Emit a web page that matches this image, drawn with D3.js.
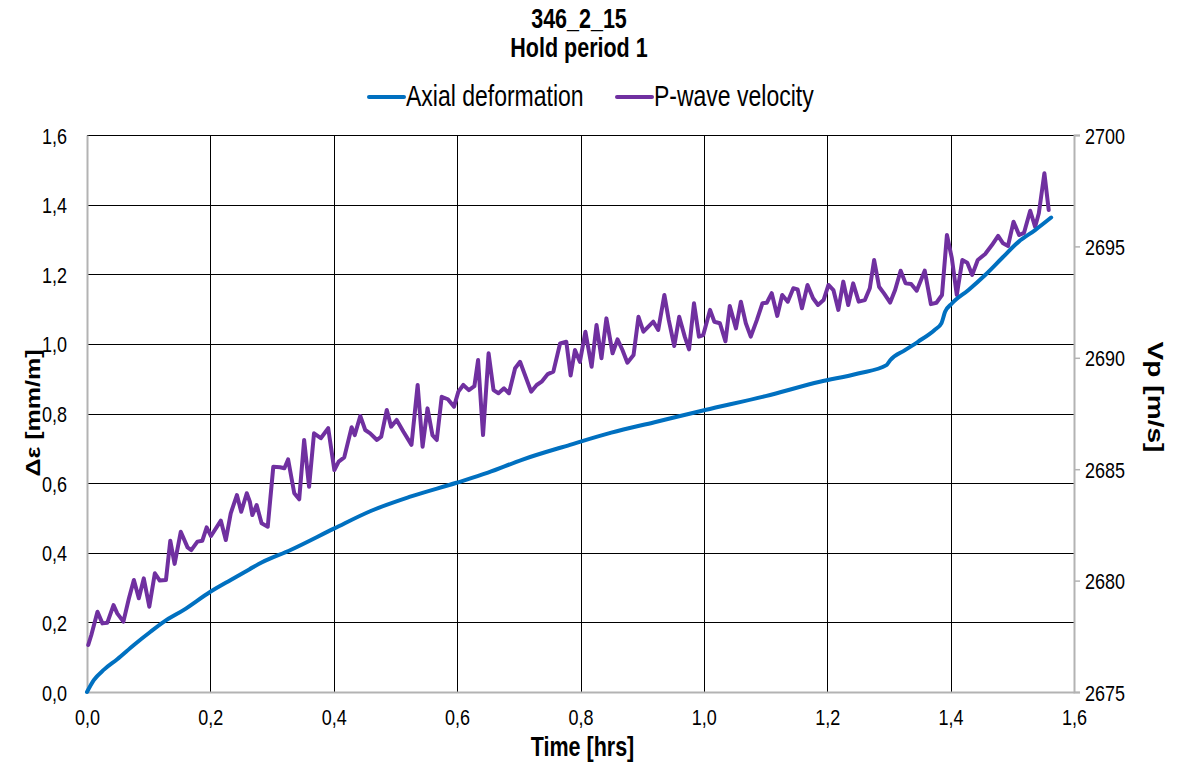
<!DOCTYPE html>
<html>
<head>
<meta charset="utf-8">
<script src="https://cdn.jsdelivr.net/npm/d3@7"></script>
<style>
  html, body { margin: 0; padding: 0; background: #ffffff; }
  svg { display: block; font-family: "Liberation Sans", Arial, sans-serif; }
</style>
</head>
<body>
<svg id="chart" width="1177" height="762"></svg>
<script>
// Axial deformation [mm/m] over time [hrs]
const deformTime = [0, 0.011, 0.028, 0.049, 0.076, 0.103, 0.125, 0.157, 0.2, 0.233, 0.263, 0.283, 0.33, 0.401, 0.46, 0.524, 0.599, 0.65, 0.705, 0.783, 0.85, 0.92, 1.002, 1.1, 1.188, 1.25, 1.296, 1.302, 1.326, 1.347, 1.374, 1.385, 1.391, 1.402, 1.429, 1.456, 1.483, 1.51, 1.537, 1.563];
const deformValue = [0, 0.034, 0.065, 0.094, 0.135, 0.173, 0.202, 0.236, 0.288, 0.322, 0.352, 0.372, 0.408, 0.47, 0.52, 0.561, 0.601, 0.63, 0.667, 0.71, 0.745, 0.775, 0.81, 0.85, 0.891, 0.915, 0.939, 0.953, 0.982, 1.006, 1.04, 1.059, 1.092, 1.116, 1.155, 1.198, 1.246, 1.293, 1.327, 1.363];

// P-wave velocity [m/s] over time [hrs]
const vpTime = [0.002, 0.007, 0.017, 0.025, 0.033, 0.043, 0.049, 0.059, 0.068, 0.076, 0.084, 0.092, 0.101, 0.110, 0.118, 0.128, 0.135, 0.142, 0.152, 0.163, 0.169, 0.179, 0.187, 0.194, 0.201, 0.217, 0.225, 0.233, 0.243, 0.250, 0.259, 0.264, 0.268, 0.275, 0.283, 0.293, 0.302, 0.313, 0.320, 0.326, 0.336, 0.344, 0.352, 0.360, 0.368, 0.379, 0.391, 0.401, 0.408, 0.417, 0.429, 0.434, 0.443, 0.451, 0.459, 0.470, 0.477, 0.486, 0.493, 0.502, 0.513, 0.526, 0.536, 0.544, 0.552, 0.560, 0.567, 0.575, 0.585, 0.595, 0.602, 0.610, 0.619, 0.628, 0.634, 0.642, 0.651, 0.659, 0.667, 0.676, 0.684, 0.694, 0.702, 0.720, 0.729, 0.737, 0.747, 0.756, 0.767, 0.777, 0.784, 0.791, 0.799, 0.808, 0.818, 0.826, 0.834, 0.842, 0.852, 0.860, 0.868, 0.876, 0.886, 0.894, 0.902, 0.910, 0.918, 0.926, 0.936, 0.943, 0.952, 0.960, 0.969, 0.976, 0.984, 0.992, 0.999, 1.010, 1.017, 1.026, 1.035, 1.042, 1.052, 1.060, 1.068, 1.076, 1.086, 1.095, 1.102, 1.110, 1.119, 1.127, 1.136, 1.145, 1.152, 1.159, 1.168, 1.177, 1.185, 1.194, 1.202, 1.210, 1.218, 1.226, 1.234, 1.242, 1.251, 1.261, 1.269, 1.276, 1.284, 1.292, 1.302, 1.310, 1.319, 1.327, 1.336, 1.345, 1.358, 1.368, 1.377, 1.386, 1.394, 1.402, 1.410, 1.419, 1.427, 1.435, 1.444, 1.456, 1.467, 1.477, 1.485, 1.493, 1.502, 1.511, 1.519, 1.529, 1.537, 1.543, 1.552, 1.559];
const vpValue = [2677.11, 2677.56, 2678.60, 2678.08, 2678.11, 2678.90, 2678.53, 2678.16, 2679.21, 2680.03, 2679.21, 2680.10, 2678.83, 2680.33, 2680.00, 2680.03, 2681.79, 2680.75, 2682.19, 2681.49, 2681.37, 2681.75, 2681.79, 2682.39, 2682.00, 2682.69, 2681.82, 2683.02, 2683.84, 2683.09, 2683.92, 2683.54, 2682.94, 2683.39, 2682.57, 2682.42, 2685.11, 2685.09, 2685.04, 2685.44, 2683.92, 2683.65, 2686.31, 2684.21, 2686.61, 2686.39, 2686.84, 2684.96, 2685.34, 2685.53, 2686.88, 2686.53, 2687.39, 2686.76, 2686.61, 2686.31, 2686.46, 2687.66, 2686.91, 2687.21, 2686.68, 2686.09, 2688.78, 2686.01, 2687.73, 2686.53, 2686.31, 2688.25, 2688.14, 2687.81, 2688.48, 2688.78, 2688.55, 2688.73, 2689.90, 2686.53, 2690.20, 2688.55, 2688.41, 2688.63, 2688.41, 2689.53, 2689.82, 2688.48, 2688.78, 2688.93, 2689.27, 2689.38, 2690.65, 2690.72, 2689.21, 2690.35, 2689.82, 2691.17, 2689.60, 2691.47, 2689.98, 2691.77, 2690.20, 2690.83, 2690.35, 2689.78, 2690.13, 2691.84, 2691.17, 2691.40, 2691.62, 2691.25, 2692.82, 2691.70, 2690.53, 2691.84, 2690.95, 2690.38, 2692.45, 2690.95, 2691.02, 2692.15, 2691.62, 2691.55, 2690.74, 2692.32, 2691.32, 2692.52, 2691.55, 2690.95, 2691.70, 2692.45, 2692.47, 2692.90, 2691.88, 2692.82, 2692.52, 2693.12, 2693.07, 2692.22, 2693.27, 2692.67, 2692.37, 2692.59, 2693.27, 2693.04, 2692.15, 2693.42, 2692.37, 2693.34, 2692.52, 2692.59, 2693.12, 2694.39, 2693.19, 2692.89, 2692.48, 2693.04, 2693.91, 2693.34, 2693.31, 2693.01, 2693.91, 2692.41, 2692.47, 2692.82, 2695.51, 2694.47, 2692.82, 2694.39, 2694.27, 2693.72, 2694.39, 2694.66, 2695.06, 2695.47, 2695.14, 2695.02, 2696.11, 2695.51, 2695.61, 2696.60, 2695.88, 2696.49, 2698.28, 2696.63];

// Axis ticks
const timeTicks = [0, 0.2, 0.4, 0.6, 0.8, 1.0, 1.2, 1.4, 1.6];
const deformTicks = [0, 0.2, 0.4, 0.6, 0.8, 1.0, 1.2, 1.4, 1.6];
const vpTicks = [2675, 2680, 2685, 2690, 2695, 2700];

const titleLines = ["346_2_15", "Hold period 1"];
const seriesNames = ["Axial deformation", "P-wave velocity"];
const seriesColors = ["#0070C0", "#7030A0"];

const svg = d3.select("#chart");
const plot = { left: 87, right: 1074, top: 135, bottom: 692 };
// All lettering is drawn taller than its nominal size
const stretch = 1.25;

const x = d3.scaleLinear().domain([0, 1.6]).range([plot.left, plot.right]);
const yL = d3.scaleLinear().domain([0, 1.6]).range([plot.bottom, plot.top]);
const yR = d3.scaleLinear().domain([2675, 2700]).range([plot.bottom, plot.top]);

const comma = v => d3.format(".1f")(v).replace(".", ",");

// Grid: horizontal lines from the left axis, vertical lines at each time tick
const grid = svg.append("g");
grid.selectAll("line.h").data(deformTicks.slice(1)).join("line")
  .attr("x1", plot.left).attr("x2", plot.right)
  .attr("y1", d => Math.round(yL(d)) + 0.5).attr("y2", d => Math.round(yL(d)) + 0.5)
  .attr("stroke", "#000").attr("stroke-width", 1);
grid.selectAll("line.v").data(timeTicks.slice(1, -1)).join("line")
  .attr("x1", d => Math.round(x(d)) + 0.5).attr("x2", d => Math.round(x(d)) + 0.5)
  .attr("y1", plot.top).attr("y2", plot.bottom)
  .attr("stroke", "#000").attr("stroke-width", 1);

// Axes
const axisColor = "#b3b3b3";
const gX = svg.append("g").attr("transform", `translate(0,${plot.bottom})`)
  .call(d3.axisBottom(x).tickValues(timeTicks).tickFormat(comma).tickSize(0));
const gL = svg.append("g").attr("transform", `translate(${plot.left},0)`)
  .call(d3.axisLeft(yL).tickValues(deformTicks).tickFormat(comma).tickSize(0));
const gR = svg.append("g").attr("transform", `translate(${plot.right},0)`)
  .call(d3.axisRight(yR).tickValues(vpTicks).tickFormat(d3.format("d")).tickSize(6));

[gX, gL, gR].forEach(g => {
  g.select(".domain").attr("stroke", axisColor).attr("stroke-width", 2);
  g.selectAll(".tick line").attr("stroke", axisColor).attr("stroke-width", 1.5);
  g.selectAll(".tick text").attr("fill", "#000").style("font-size", "18px")
    .style("font-family", "'Liberation Sans', Arial, sans-serif")
    .attr("x", 0).attr("y", 0).attr("dy", 0);
});
gX.selectAll(".tick text").attr("transform", `translate(0,33) scale(1,${stretch})`);
gL.selectAll(".tick text").attr("transform", `translate(-20,8) scale(1,${stretch})`);
gR.selectAll(".tick text").attr("transform", `translate(11,8) scale(1,${stretch})`);

// Series lines
const lineVp = d3.line().x(d => x(d[0])).y(d => yR(d[1]));
const lineDeform = d3.line().curve(d3.curveMonotoneX).x(d => x(d[0])).y(d => yL(d[1]));

svg.append("path")
  .datum(vpTime.map((t, i) => [t, vpValue[i]]))
  .attr("d", lineVp)
  .attr("fill", "none").attr("stroke", seriesColors[1])
  .attr("stroke-width", 4).attr("stroke-linejoin", "round").attr("stroke-linecap", "round");

svg.append("path")
  .datum(deformTime.map((t, i) => [t, deformValue[i]]))
  .attr("d", lineDeform)
  .attr("fill", "none").attr("stroke", seriesColors[0])
  .attr("stroke-width", 4).attr("stroke-linejoin", "round").attr("stroke-linecap", "round");

// Title
svg.append("g").selectAll("text").data(titleLines).join("text")
  .attr("transform", (d, i) => `translate(579,${28 + i * 29}) scale(1,${stretch})`)
  .attr("text-anchor", "middle")
  .style("font-size", "21.5px").style("font-weight", "bold")
  .text(d => d);

// Legend
const legendItems = [
  { name: seriesNames[0], color: seriesColors[0], x: 368 },
  { name: seriesNames[1], color: seriesColors[1], x: 616 }
];
const lg = svg.append("g").selectAll("g").data(legendItems).join("g")
  .attr("transform", d => `translate(${d.x},97)`);
lg.append("line").attr("x1", 1).attr("x2", 36).attr("y1", 0).attr("y2", 0)
  .attr("stroke", d => d.color).attr("stroke-width", 4).attr("stroke-linecap", "round");
lg.append("text").attr("transform", `translate(38,8.5) scale(1,${stretch})`)
  .style("font-size", "23px").text(d => d.name);

// Axis titles
svg.append("text").attr("transform", `translate(${(plot.left + plot.right) / 2 + 2},756) scale(1,${stretch})`)
  .attr("text-anchor", "middle").style("font-size", "21.5px").style("font-weight", "bold")
  .text("Time [hrs]");
svg.append("text").attr("transform", `translate(40,413) rotate(-90) scale(${stretch},1)`)
  .attr("text-anchor", "middle").style("font-size", "20px").style("font-weight", "bold")
  .text("Δε [mm/m]");
svg.append("text").attr("transform", `translate(1148,397) rotate(90) scale(${stretch},1)`)
  .attr("text-anchor", "middle").style("font-size", "22.5px").style("font-weight", "bold")
  .text("Vp [m/s]");
</script>
</body>
</html>
